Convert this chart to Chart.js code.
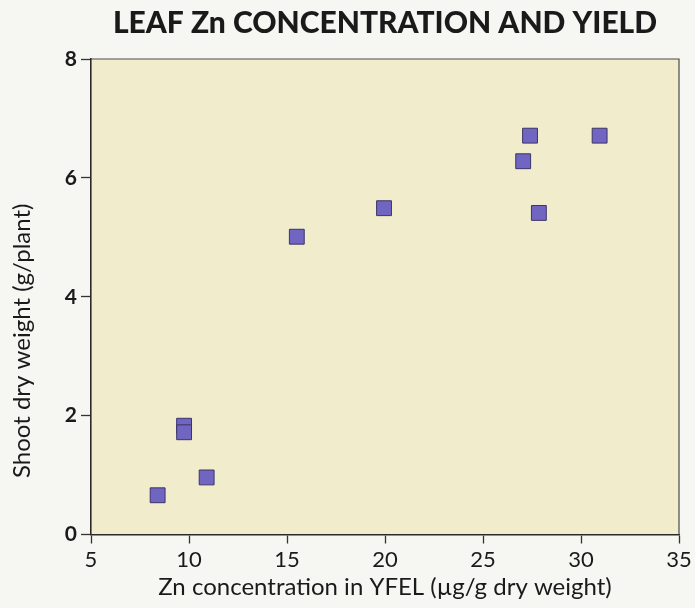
<!DOCTYPE html>
<html>
<head>
<meta charset="utf-8">
<title>Leaf Zn concentration and yield</title>
<script src="https://cdn.jsdelivr.net/npm/chart.js@4.4.1/dist/chart.umd.min.js"></script>
<style>
  html, body { margin: 0; padding: 0; background: #f6f6f3; }
  canvas { display: block; }
</style>
</head>
<body>
<canvas id="zn-yield" width="695" height="608"></canvas>
<script>
// leaf Zn (ug/g dry weight) vs shoot dry weight (g/plant)
var zincConc = [8.4, 9.75, 9.75, 10.9, 15.5, 19.95, 27.05, 27.4, 27.85, 30.95];
var shootWeight = [0.66, 1.83, 1.72, 0.96, 5.01, 5.49, 6.28, 6.71, 5.41, 6.71];

var xTicks = [5, 10, 15, 20, 25, 30, 35];
var yTicks = [0, 2, 4, 6, 8];

var yTitle = 'Shoot dry weight (g/plant)';

var points = zincConc.map(function (x, i) {
    return { x: x, y: shootWeight[i] };
});

var inkColor = '#1a1a1a';
var fontFamily = "Lato, 'Open Sans', sans-serif";

// cream fill behind the plot, thin top/right frame, and the y title
// (drawn by hand so it can sit a little below the plot's middle)
var plotFrame = {
    id: 'plotFrame',
    beforeDraw: function (chart) {
        var a = chart.chartArea, c = chart.ctx;
        c.save();
        c.fillStyle = '#f1edcc';
        c.fillRect(a.left, a.top, a.right - a.left, a.bottom - a.top);
        c.restore();
    },
    afterDatasetsDraw: function (chart) {
        var a = chart.chartArea, c = chart.ctx;
        c.save();
        c.strokeStyle = '#4a4a4a';
        c.lineWidth = 1.2;
        c.beginPath();
        c.moveTo(a.left, a.top);
        c.lineTo(a.right, a.top);
        c.lineTo(a.right, a.bottom);
        c.stroke();
        c.restore();
    },
    afterDraw: function (chart) {
        var a = chart.chartArea, c = chart.ctx;
        c.save();
        c.translate(22, (a.top + a.bottom) / 2 + 44);
        c.rotate(-Math.PI / 2);
        c.fillStyle = inkColor;
        c.font = '24px ' + fontFamily;
        c.textAlign = 'center';
        c.textBaseline = 'middle';
        c.fillText(yTitle, 0, 0);
        c.restore();
    }
};

var ctx = document.getElementById('zn-yield');

new Chart(ctx, {
    type: 'scatter',
    data: {
        datasets: [{
            label: 'Shoot dry weight',
            data: points,
            pointStyle: 'rect',
            pointRadius: 10.5,
            pointHoverRadius: 10.5,
            backgroundColor: '#7165c2',
            borderColor: '#3b3468',
            borderWidth: 1
        }]
    },
    options: {
        responsive: false,
        animation: false,
        layout: { padding: { top: 0, right: 16, bottom: 0, left: 0 } },
        plugins: {
            legend: { display: false },
            tooltip: { enabled: false },
            title: {
                display: true,
                fullSize: false,
                text: 'LEAF Zn CONCENTRATION AND YIELD',
                color: inkColor,
                font: { family: fontFamily, size: 30, weight: '900' },
                padding: { top: 5, bottom: 18 }
            }
        },
        scales: {
            x: {
                type: 'linear',
                min: 5,
                max: 35,
                afterFit: function (scale) { scale.height = 73.5; },
                afterBuildTicks: function (scale) {
                    scale.ticks = xTicks.map(function (v) { return { value: v }; });
                },
                grid: {
                    drawOnChartArea: false,
                    drawTicks: true,
                    tickLength: 9,
                    tickColor: '#333',
                    tickWidth: 1.3
                },
                border: { display: true, color: '#2a2a2a', width: 1.6 },
                ticks: {
                    color: inkColor,
                    padding: 3,
                    font: { family: fontFamily, size: 22 }
                },
                title: {
                    display: true,
                    text: 'Zn concentration in YFEL (µg/g dry weight)',
                    color: inkColor,
                    font: { family: fontFamily, size: 24 },
                    padding: { top: 0, bottom: 6 }
                }
            },
            y: {
                type: 'linear',
                min: 0,
                max: 8,
                afterFit: function (scale) { scale.width = 91; },
                afterBuildTicks: function (scale) {
                    scale.ticks = yTicks.map(function (v) { return { value: v }; });
                },
                grid: {
                    drawOnChartArea: false,
                    drawTicks: true,
                    tickLength: 10,
                    tickColor: '#333',
                    tickWidth: 1.3
                },
                border: { display: true, color: '#2a2a2a', width: 1.6 },
                ticks: {
                    color: inkColor,
                    padding: 4,
                    font: { family: fontFamily, size: 21, weight: 'bold' }
                }
            }
        }
    },
    plugins: [plotFrame]
});
</script>
</body>
</html>
